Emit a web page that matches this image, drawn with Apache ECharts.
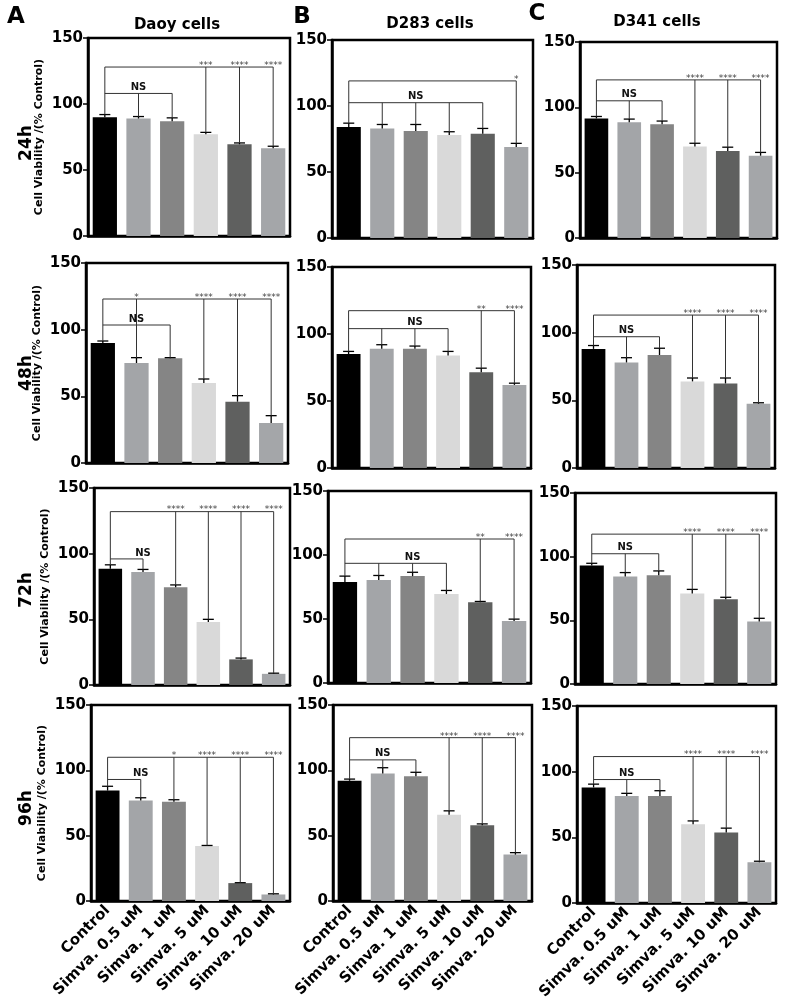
<!DOCTYPE html>
<html><head><meta charset="utf-8">
<script src="https://cdn.jsdelivr.net/npm/echarts@6/dist/echarts.min.js"></script>
<style>html,body{margin:0;padding:0;background:#fff}#c{width:785px;height:1008px}</style>
</head><body><div id="c"></div>
<script>
// ---------- DATA ----------
const categories = ['Control', 'Simva. 0.5 uM', 'Simva. 1 uM', 'Simva. 5 uM', 'Simva. 10 uM', 'Simva. 20 uM'];
const cellLines = ['Daoy cells', 'D283 cells', 'D341 cells'];
const panelLetters = ['A', 'B', 'C'];
const timePoints = ['24h', '48h', '72h', '96h'];
const yMin = 0, yMax = 150, yStep = 50;

// means (% control) and upper error (SD)
const daoy24 = [90, 89, 87, 77, 69.5, 66.5];
const daoy24Err = [2, 1.5, 2.5, 1.5, 1, 1.5];
const d283_24 = [84, 83, 81, 78, 79, 69];
const d283_24Err = [3, 3, 5, 2.5, 4, 2.7];
const d341_24 = [91.5, 88.5, 87, 70, 66.5, 63];
const d341_24Err = [1.5, 2.5, 2.5, 2.5, 3, 2.5];

const daoy48 = [90, 75, 78.5, 60, 46, 30];
const daoy48Err = [1.5, 4, 0.5, 3, 4.5, 5.5];
const d283_48 = [85, 89, 89, 84, 71.5, 62];
const d283_48Err = [2, 3, 2, 3, 3, 1.3];
const d341_48 = [88, 78, 83.5, 64, 62.5, 47.5];
const d341_48Err = [2.5, 3.5, 5, 2.5, 4, 0.7];

const daoy72 = [88.5, 86, 74.5, 48, 19.5, 8.5];
const daoy72Err = [3, 2, 1.7, 2, 1, 0.5];
const d283_72 = [79, 80.5, 83.5, 69.5, 63, 48.5];
const d283_72Err = [4.5, 3.5, 3, 2.8, 0.7, 1.4];
const d341_72 = [93, 84.5, 85.5, 71, 66.5, 49];
const d341_72Err = [1.8, 3, 3.3, 3.3, 1.6, 2.6];

const daoy96 = [84.5, 77, 76, 42, 13.7, 5];
const daoy96Err = [3.3, 2, 1.5, 0.5, 0.3, 0.5];
const d283_96 = [92, 97.5, 95.5, 66, 58, 35.5];
const d283_96Err = [1.3, 4.5, 3, 3, 1, 1.5];
const d341_96 = [88, 81.5, 81.5, 60, 53.7, 31];
const d341_96Err = [2.5, 2, 4, 2.5, 3.3, 0.8];

// significance annotations (panel order: row by row, A,B,C)
const nsLevel = [108, 102.5, 105, 103.5, 104, 97, 96, 93.5, 102.3, 93, 108, 94];
const nsEnd = [2, 4, 2, 2, 3, 2, 1, 3, 2, 1, 2, 2];
const bigLevel = [128, 119, 121, 123, 117.4, 113, 132, 112.5, 117.7, 110, 125, 111.5];
const starsA24 = ['', '', '', '***', '****', '****'];
const starsB24 = ['', '', '', '', '', '*'];
const starsC24 = ['', '', '', '****', '****', '****'];
const starsA48 = ['', '*', '', '****', '****', '****'];
const starsB48 = ['', '', '', '', '**', '****'];
const starsC48 = ['', '', '', '****', '****', '****'];
const starsA72 = ['', '', '****', '****', '****', '****'];
const starsB72 = ['', '', '', '', '**', '****'];
const starsC72 = ['', '', '', '****', '****', '****'];
const starsA96 = ['', '', '*', '****', '****', '****'];
const starsB96 = ['', '', '', '****', '****', '****'];
const starsC96 = ['', '', '', '****', '****', '****'];

// ---------- STYLE / LAYOUT ----------
const barColors = ['#000000', '#a3a5a8', '#858585', '#d9d9d9', '#5f605f', '#a4a6a9'];
const FONT = 'DejaVu Sans';
const colLeft = [[88, 332, 580], [86, 332, 577], [94, 328, 575], [91, 333, 577]];
const colRight = [[290, 533, 777], [288, 531, 775], [290, 531, 776], [290, 532, 776]];
const rowTop = [[38, 40, 42], [263, 267, 265], [488, 491, 493], [705, 705, 706]];
const rowBottom = [[236, 238, 238], [463, 468, 468], [685, 683, 684], [901, 901, 903]];

const panelMeans = [daoy24, d283_24, d341_24, daoy48, d283_48, d341_48, daoy72, d283_72, d341_72, daoy96, d283_96, d341_96];
const panelErrs = [daoy24Err, d283_24Err, d341_24Err, daoy48Err, d283_48Err, d341_48Err, daoy72Err, d283_72Err, d341_72Err, daoy96Err, d283_96Err, d341_96Err];
const panelStars = [starsA24, starsB24, starsC24, starsA48, starsB48, starsC48, starsA72, starsB72, starsC72, starsA96, starsB96, starsC96];

const grids = [], xAxes = [], yAxes = [], series = [];

function bracketRenderer(p) {
  return function (params, api) {
    const m = panelMeans[p], e = panelErrs[p], st = panelStars[p];
    const cap = i => m[i] + e[i];
    const ch = [];
    const L = (a, b) => ch.push({ type: 'line', shape: { x1: a[0], y1: a[1], x2: b[0], y2: b[1] }, style: { stroke: '#333', lineWidth: 1 } });
    // NS bracket
    const ny = nsLevel[p], ne = nsEnd[p];
    L(api.coord([0, ny]), api.coord([ne, ny]));
    for (let i = 1; i <= ne; i++) L(api.coord([i, ny]), api.coord([i, cap(i)]));
    const nsX = ne === 1 ? 0.95 : ne / 2;
    const np = api.coord([nsX, ny]);
    ch.push({ type: 'text', x: np[0], y: np[1] - 1, style: { text: 'NS', align: 'center', verticalAlign: 'bottom', textAlign: 'center', textVerticalAlign: 'bottom', fill: '#111', font: 'bold 10px ' + FONT } });
    // main bracket
    const by = bigLevel[p];
    let last = 0;
    st.forEach((s, i) => { if (s) last = i; });
    L(api.coord([0, by]), api.coord([last, by]));
    L(api.coord([0, by]), api.coord([0, cap(0)]));
    st.forEach((s, i) => {
      if (!s) return;
      L(api.coord([i, by]), api.coord([i, cap(i)]));
      const tp = api.coord([i, by]);
      ch.push({ type: 'text', x: tp[0], y: tp[1] + 3, style: { text: s, align: 'center', verticalAlign: 'bottom', textAlign: 'center', textVerticalAlign: 'bottom', fill: '#444', font: '9px ' + FONT } });
    });
    return { type: 'group', children: ch };
  };
}

function errRender(params, api) {
  const a = api.coord([api.value(0), api.value(1)]);
  const b = api.coord([api.value(0), api.value(2)]);
  const hw = 5.5;
  return {
    type: 'group', children: [
      { type: 'line', shape: { x1: a[0], y1: a[1], x2: b[0], y2: b[1] }, style: { stroke: '#000', lineWidth: 1.3 } },
      { type: 'line', shape: { x1: b[0] - hw, y1: b[1], x2: b[0] + hw, y2: b[1] }, style: { stroke: '#000', lineWidth: 1.3 } }
    ]
  };
}

for (let r = 0; r < 4; r++) {
  for (let c = 0; c < 3; c++) {
    const p = r * 3 + c;
    const left = colLeft[r][c], top = rowTop[r][c];
    grids.push({ left: left, top: top, width: colRight[r][c] - left, height: rowBottom[r][c] - top, show: true, borderColor: '#000', borderWidth: 2.5, containLabel: false });
    xAxes.push({
      type: 'category', gridIndex: p, data: categories,
      axisLine: { lineStyle: { color: '#000', width: 2.5 } },
      axisTick: { alignWithLabel: true, length: 5, lineStyle: { color: '#000', width: 1.5 } },
      axisLabel: { show: r === 3, interval: 0, rotate: 45, margin: 7, color: '#000', fontSize: 15, fontWeight: 'bold', fontFamily: FONT },
      splitLine: { show: false }
    });
    yAxes.push({
      type: 'value', gridIndex: p, min: yMin, max: yMax, interval: yStep,
      name: c === 0 ? 'Cell Viability /(% Control)' : '',
      nameLocation: 'middle', nameGap: 43,
      nameTextStyle: { color: '#000', fontSize: 11, fontWeight: 'bold', fontFamily: FONT },
      axisLine: { show: true, lineStyle: { color: '#000', width: 2.5 } },
      axisTick: { show: true, length: 5, lineStyle: { color: '#000', width: 1.5 } },
      axisLabel: { margin: 5, color: '#000', fontSize: 15, fontWeight: 'bold', fontFamily: FONT },
      splitLine: { show: false }
    });
    const m = panelMeans[p], e = panelErrs[p];
    series.push({
      type: 'bar', xAxisIndex: p, yAxisIndex: p, barCategoryGap: '28%',
      data: m.map((v, i) => ({ value: v, itemStyle: { color: barColors[i] } })),
      silent: true, animation: false
    });
    series.push({
      type: 'custom', xAxisIndex: p, yAxisIndex: p, z: 5, clip: false,
      renderItem: errRender, encode: { x: 0, y: [1, 2] },
      data: m.map((v, i) => [i, v, v + e[i]]), silent: true, animation: false
    });
    series.push({
      type: 'custom', xAxisIndex: p, yAxisIndex: p, z: 6, clip: false,
      renderItem: bracketRenderer(p), encode: { x: 0, y: 1 },
      data: [[0, 0]], silent: true, animation: false
    });
  }
}

const graphics = [];
const letterPos = [[16, 17], [302, 17], [537, 14]];
const titlePos = [[177, 25], [430, 24], [657, 22]];
for (let c = 0; c < 3; c++) {
  graphics.push({ type: 'text', x: letterPos[c][0], y: letterPos[c][1], style: { text: panelLetters[c], align: 'center', verticalAlign: 'middle', textAlign: 'center', textVerticalAlign: 'middle', fill: '#000', font: 'bold 23px ' + FONT } });
  graphics.push({ type: 'text', x: titlePos[c][0], y: titlePos[c][1], style: { text: cellLines[c], align: 'center', verticalAlign: 'middle', textAlign: 'center', textVerticalAlign: 'middle', fill: '#000', font: 'bold 15px ' + FONT } });
}
const rowLabelY = [143, 373, 590, 808];
for (let r = 0; r < 4; r++) {
  graphics.push({ type: 'text', x: 27, y: rowLabelY[r], rotation: Math.PI / 2, style: { text: timePoints[r], align: 'center', verticalAlign: 'middle', textAlign: 'center', textVerticalAlign: 'middle', fill: '#000', font: 'bold 17px ' + FONT } });
}

const chart = echarts.init(document.getElementById('c'), null, { renderer: 'canvas' });
chart.setOption({
  animation: false,
  backgroundColor: '#fff',
  grid: grids, xAxis: xAxes, yAxis: yAxes, series: series,
  graphic: graphics
});
</script></body></html>
